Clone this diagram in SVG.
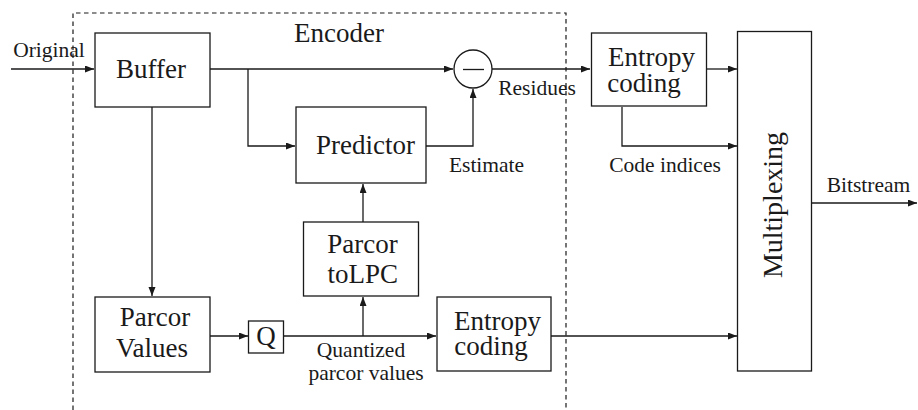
<svg xmlns="http://www.w3.org/2000/svg" width="918" height="410" viewBox="0 0 918 410">
<defs>
<marker id="ah" markerUnits="userSpaceOnUse" markerWidth="10" markerHeight="8" refX="9" refY="3.5" orient="auto">
<path d="M0,0 L9,3.5 L0,7 z" fill="#1a1a1a"/>
</marker>
</defs>
<rect width="918" height="410" fill="#fff"/>
<g id="encoder">
<path d="M73,410 V13 H566 V410" fill="none" stroke="#1a1a1a" stroke-width="1.2" stroke-dasharray="4.5,3.5"/>
<text font-family="Liberation Serif, Times New Roman, serif" font-size="27" fill="#1a1a1a" x="339" y="42" text-anchor="middle">Encoder</text>
</g>
<g id="connectors" fill="none" stroke="#1a1a1a" stroke-width="1.3">
<path d="M11,69 H94" marker-end="url(#ah)"/>
<path d="M210,69 H453" marker-end="url(#ah)"/>
<path d="M248,69 V146 H295" marker-end="url(#ah)"/>
<path d="M426,146 H473 V89" marker-end="url(#ah)"/>
<path d="M492,69 H590" marker-end="url(#ah)"/>
<path d="M707,69 H737" marker-end="url(#ah)"/>
<path d="M622,107 V146 H737" marker-end="url(#ah)"/>
<path d="M811,203 H917" marker-end="url(#ah)"/>
<path d="M152,107 V296" marker-end="url(#ah)"/>
<path d="M210,336 H248" marker-end="url(#ah)"/>
<path d="M283,336 H436" marker-end="url(#ah)"/>
<path d="M363,336 V297" marker-end="url(#ah)"/>
<path d="M363,222 V184" marker-end="url(#ah)"/>
<path d="M551,336 H737" marker-end="url(#ah)"/>
</g>
<g id="labels" font-family="Liberation Serif, Times New Roman, serif" font-size="21.5" fill="#1a1a1a" stroke="none" text-anchor="middle">
<text x="49" y="57">Original</text>
<text x="537" y="94.5">Residues</text>
<text x="486.5" y="172">Estimate</text>
<text x="665" y="172">Code indices</text>
<text x="868.5" y="192">Bitstream</text>
<text x="361" y="356.5">Quantized</text>
<text x="366" y="380">parcor values</text>
</g>
<g id="buffer">
<rect x="95" y="33" width="115" height="74" fill="#fff" stroke="#1a1a1a" stroke-width="1.3"/>
<text font-family="Liberation Serif, Times New Roman, serif" font-size="27" fill="#1a1a1a" x="151" y="78" text-anchor="middle">Buffer</text>
</g>
<g id="subtract" fill="#fff" stroke="#1a1a1a" stroke-width="1.3">
<circle cx="473" cy="69" r="19"/>
<line x1="463" y1="69.5" x2="484" y2="69.5"/>
</g>
<g id="predictor">
<rect x="296" y="107" width="130" height="76" fill="#fff" stroke="#1a1a1a" stroke-width="1.3"/>
<text font-family="Liberation Serif, Times New Roman, serif" font-size="27" fill="#1a1a1a" x="365.5" y="154" text-anchor="middle">Predictor</text>
</g>
<g id="entropy-top">
<rect x="591.5" y="33" width="115" height="73" fill="#fff" stroke="#1a1a1a" stroke-width="1.3"/>
<text font-family="Liberation Serif, Times New Roman, serif" font-size="27" fill="#1a1a1a" x="651.5" y="66" text-anchor="middle">Entropy</text>
<text font-family="Liberation Serif, Times New Roman, serif" font-size="27" fill="#1a1a1a" x="644" y="91.5" text-anchor="middle">coding</text>
</g>
<g id="multiplexing">
<rect x="737.5" y="31.5" width="74" height="339.5" fill="#fff" stroke="#1a1a1a" stroke-width="1.3"/>
<text font-family="Liberation Serif, Times New Roman, serif" font-size="28" fill="#1a1a1a" transform="translate(782,205) rotate(-90)" x="0" y="0" text-anchor="middle">Multiplexing</text>
</g>
<g id="parcor-values">
<rect x="95" y="297" width="115" height="75" fill="#fff" stroke="#1a1a1a" stroke-width="1.3"/>
<text font-family="Liberation Serif, Times New Roman, serif" font-size="27" fill="#1a1a1a" x="155" y="326" text-anchor="middle">Parcor</text>
<text font-family="Liberation Serif, Times New Roman, serif" font-size="27" fill="#1a1a1a" x="152" y="356.5" text-anchor="middle">Values</text>
</g>
<g id="q">
<rect x="248.5" y="321" width="35" height="32" fill="#fff" stroke="#1a1a1a" stroke-width="1.3"/>
<text font-family="Liberation Serif, Times New Roman, serif" font-size="27" fill="#1a1a1a" x="266" y="345" text-anchor="middle">Q</text>
</g>
<g id="parcor-tolpc">
<rect x="303.5" y="222" width="115" height="74" fill="#fff" stroke="#1a1a1a" stroke-width="1.3"/>
<text font-family="Liberation Serif, Times New Roman, serif" font-size="27" fill="#1a1a1a" x="362.5" y="252.5" text-anchor="middle">Parcor</text>
<text font-family="Liberation Serif, Times New Roman, serif" font-size="27" fill="#1a1a1a" x="362.75" y="283" text-anchor="middle">toLPC</text>
</g>
<g id="entropy-bottom">
<rect x="437" y="297" width="114" height="74" fill="#fff" stroke="#1a1a1a" stroke-width="1.3"/>
<text font-family="Liberation Serif, Times New Roman, serif" font-size="27" fill="#1a1a1a" x="497.5" y="330" text-anchor="middle">Entropy</text>
<text font-family="Liberation Serif, Times New Roman, serif" font-size="27" fill="#1a1a1a" x="491" y="355" text-anchor="middle">coding</text>
</g>
</svg>
